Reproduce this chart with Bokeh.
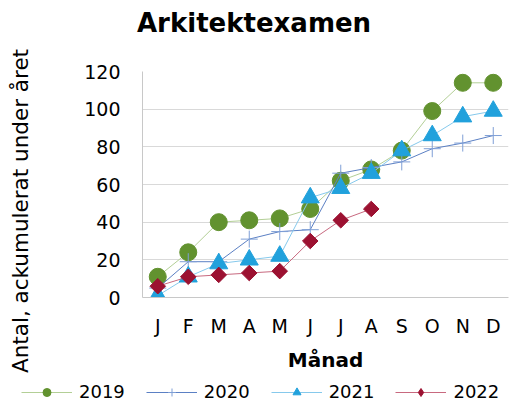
from math import pi
from bokeh.plotting import figure
from bokeh.layouts import column, row
from bokeh.models import Range1d, Div, Legend, LegendItem, FixedTicker
from bokeh.embed import file_html
from bokeh.resources import INLINE

title_text = "Arkitektexamen"
y_title = "Antal, ackumulerat under året"
x_title = "Månad"
months = ["J", "F", "M", "A", "M", "J", "J", "A", "S", "O", "N", "D"]
years = ["2019", "2020", "2021", "2022"]
v2019 = [11, 24, 40, 41, 42, 47, 62, 68, 78, 99, 114, 114]
v2020 = [5, 19, 19, 31, 35, 36, 66, 69, 72, 79, 82, 86]
v2021 = [1, 11, 18, 20, 22, 53, 58, 66, 78, 86, 96, 99]
v2022 = [6, 11, 12, 13, 14, 30, 41, 47]
y_ticks = [0, 20, 40, 60, 80, 100, 120]

FONT = "DejaVu Sans"
xs = list(range(len(months)))

# line colour, marker colour, marker, size, angle, legend marker, legend size
styles = [
    (v2019, "#b3cf96", "#62922f", "circle", 17, 0, "circle", 9),
    (v2020, "#5b80c4", "#7f9fd6", "cross", 17, 0, "cross", 10),
    (v2021, "#86c9ec", "#21a1dc", "triangle", 18, 0, "triangle", 10),
    (v2022, "#c8697f", "#9c1131", "square", 11, pi / 4, "diamond", 11),
]


def draw_series(fig, for_legend=False):
    items = []
    for yr, (vals, lc, mc, mk, sz, ang, lmk, lsz) in zip(years, styles):
        x = xs[:len(vals)]
        if for_legend:
            mk, sz, ang = lmk, lsz, 0
        lr = fig.line(x, vals, line_color=lc, line_width=1)
        if mk == "cross":
            sr = fig.scatter(x, vals, marker=mk, size=sz, line_color=mc, line_width=1)
        else:
            sr = fig.scatter(x, vals, marker=mk, size=sz, angle=ang,
                             fill_color=mc, line_color=mc, line_width=1)
        items.append(LegendItem(label=yr, renderers=[lr, sr]))
    return items


# ---- title strip ----
title_div = Div(text=title_text, width=510, height=38, margin=0,
                styles={"font-family": FONT, "font-size": "26px",
                        "font-weight": "bold", "color": "#000000",
                        "line-height": "30px", "padding-left": "137px",
                        "padding-top": "8px", "white-space": "nowrap"})

# ---- main chart ----
p = figure(width=465, height=337, output_backend="svg", toolbar_location=None,
           x_range=Range1d(-0.5, 11.5), y_range=Range1d(0, 120),
           min_border_left=97, min_border_right=2, min_border_top=33,
           min_border_bottom=78)
p.outline_line_color = None
p.title.visible = False

p.xaxis.ticker = FixedTicker(ticks=xs)
p.xaxis.major_label_overrides = {i: m for i, m in enumerate(months)}
p.yaxis.ticker = FixedTicker(ticks=y_ticks)
for ax in (p.xaxis, p.yaxis):
    ax.major_tick_line_color = None
    ax.minor_tick_line_color = None
    ax.axis_line_color = "#c8c8c8"
    ax.major_label_text_font = FONT
    ax.major_label_text_font_size = "19px"
    ax.major_label_text_color = "#000000"
p.xaxis.major_label_standoff = 11
p.yaxis.major_label_standoff = 16
p.xaxis.axis_label = x_title
p.xaxis.axis_label_text_font = FONT
p.xaxis.axis_label_text_font_size = "20px"
p.xaxis.axis_label_text_font_style = "bold"
p.xaxis.axis_label_text_color = "#000000"
p.xaxis.axis_label_standoff = 8

p.xgrid.grid_line_color = None
p.ygrid.grid_line_color = "#d9d9d9"
p.ygrid.grid_line_width = 1

draw_series(p)

# ---- y-axis title strip ----
ylab = Div(text=y_title, width=45, height=337, margin=0,
           styles={"writing-mode": "vertical-rl", "transform": "rotate(180deg)",
                   "font-family": FONT, "font-size": "21.5px", "color": "#000000",
                   "line-height": "42px", "white-space": "nowrap",
                   "padding-top": "2px"})

# ---- legend strip ----
leg_fig = figure(width=510, height=30, output_backend="svg", toolbar_location=None,
                 x_range=Range1d(-100, -99), y_range=Range1d(-100, -99),
                 x_axis_location=None, y_axis_location=None,
                 min_border_left=0, min_border_right=0,
                 min_border_top=0, min_border_bottom=0)
leg_fig.outline_line_color = None
leg_fig.grid.visible = False
leg_fig.title.visible = False
items = draw_series(leg_fig, for_legend=True)
legend = Legend(items=items, orientation="horizontal", location=(21, 3),
                label_text_font=FONT, label_text_font_size="18px",
                label_text_color="#000000", glyph_width=51, glyph_height=20,
                label_standoff=7, spacing=21, padding=0, margin=0,
                border_line_color=None, background_fill_alpha=0)
leg_fig.add_layout(legend, "center")

layout = column(title_div, row(ylab, p, spacing=0), leg_fig, spacing=0)
open("out.html", "w").write(file_html(layout, INLINE))
